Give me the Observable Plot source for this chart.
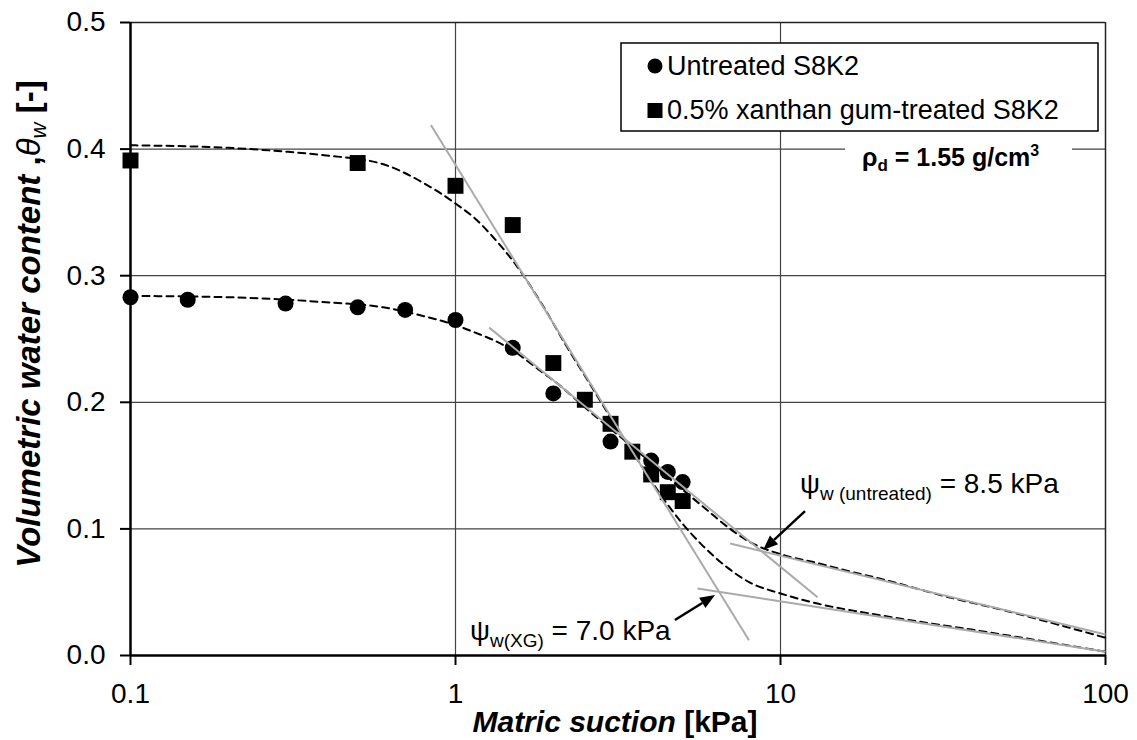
<!DOCTYPE html>
<html><head><meta charset="utf-8">
<script src="https://cdn.jsdelivr.net/npm/d3@7"></script>
<script src="https://cdn.jsdelivr.net/npm/@observablehq/plot@0.6"></script>
<style>body{margin:0;background:#fff}</style>
</head><body><div id="chart"></div>
<script>
const FONT = "'Liberation Sans', Arial, Helvetica, sans-serif";

// ---- measured data ----
const untreatedSuction = [0.1, 0.15, 0.3, 0.5, 0.7, 1, 1.5, 2, 3, 4, 4.5, 5];
const untreatedTheta   = [0.283, 0.281, 0.278, 0.275, 0.273, 0.265, 0.243, 0.207, 0.169, 0.154, 0.145, 0.137];
const treatedSuction   = [0.1, 0.5, 1, 1.5, 2, 2.5, 3, 3.5, 4, 4.5, 5];
const treatedTheta     = [0.391, 0.389, 0.371, 0.340, 0.231, 0.202, 0.183, 0.161, 0.143, 0.129, 0.122];

// ---- fitted curves ----
const untreatedFitX = [0.1, 0.2, 0.4, 0.6, 0.8, 1, 1.15, 1.3, 1.5, 1.8, 2.1, 2.5, 3, 3.5, 4, 5, 6, 7, 8, 10, 13, 16, 20, 33, 50, 70, 100];
const untreatedFitY = [0.284, 0.283, 0.279, 0.275, 0.268, 0.261, 0.255, 0.2495, 0.241, 0.226, 0.213, 0.196, 0.179, 0.165, 0.152, 0.131, 0.114, 0.100, 0.090, 0.080, 0.073, 0.067, 0.061, 0.046, 0.035, 0.025, 0.014];
const treatedFitX = [0.1, 0.2, 0.3, 0.4, 0.6, 0.8, 1, 1.15, 1.3, 1.55, 1.85, 2.2, 2.6, 3, 3.5, 4, 4.5, 5, 5.7, 6.9, 8, 10, 13, 20, 42, 100];
const treatedFitY = [0.403, 0.401, 0.398, 0.395, 0.388, 0.373, 0.357, 0.345, 0.331, 0.307, 0.277, 0.244, 0.214, 0.188, 0.161, 0.138, 0.119, 0.104, 0.088, 0.069, 0.058, 0.049, 0.041, 0.032, 0.019, 0.003];

// ---- tangent construction lines ----
const tangentX1 = [0.84, 1.27, 5.55, 7.0];
const tangentY1 = [0.419, 0.259, 0.053, 0.0885];
const tangentX2 = [8.0, 13.0, 100, 100];
const tangentY2 = [0.012, 0.046, 0.003, 0.0166];

// ---- annotation arrows (tail -> tip) ----
const arrowFromX = [11.94, 4.75];
const arrowFromY = [0.1137, 0.0276];
const arrowToX   = [8.87, 6.31];
const arrowToY   = [0.0829, 0.0474];

// ---- annotation texts ----
const annotMain = ["ψ", "ψ"];
const annotSub  = ["w (untreated)", "w(XG)"];
const annotRest = [" = 8.5 kPa", " = 7.0 kPa"];
const annotX = [11.52, 1.112];
const annotY = [0.128, 0.0118];

// ---- ticks & labels ----
const xTicks = [0.1, 1, 10, 100];
const xTickLabels = ["0.1", "1", "10", "100"];
const yTicks = [0, 0.1, 0.2, 0.3, 0.4, 0.5];
const yTickLabels = ["0.0", "0.1", "0.2", "0.3", "0.4", "0.5"];
const xGrid = [1, 10];
const yGrid = [0.1, 0.2, 0.3, 0.4];
const legendLabels = ["Untreated S8K2", "0.5% xanthan gum-treated S8K2"];

// ---- build tables ----
const untreated = untreatedSuction.map((x, i) => ({x, y: untreatedTheta[i]}));
const treated = treatedSuction.map((x, i) => ({x, y: treatedTheta[i]}));
const untreatedFit = untreatedFitX.map((x, i) => ({x, y: untreatedFitY[i]}));
const treatedFit = treatedFitX.map((x, i) => ({x, y: treatedFitY[i]}));
const tangents = tangentX1.map((x1, i) => ({x1, y1: tangentY1[i], x2: tangentX2[i], y2: tangentY2[i]}));

const chart = Plot.plot({
  width: 1137, height: 740,
  marginLeft: 130, marginRight: 32, marginTop: 22, marginBottom: 85,
  style: {fontFamily: FONT, background: "#fff", color: "#000", overflow: "visible"},
  x: {type: "log", domain: [0.1, 100]},
  y: {domain: [0, 0.5]},
  marks: [
    Plot.ruleX(xGrid, {stroke: "#444", strokeWidth: 1.2}),
    Plot.ruleY(yGrid, {stroke: "#444", strokeWidth: 1.2}),
    Plot.ruleY([0.5], {stroke: "#222", strokeWidth: 1.5}),
    Plot.ruleX([100], {stroke: "#222", strokeWidth: 1.5}),
    Plot.line(untreatedFit, {x: "x", y: "y", stroke: "#000", strokeWidth: 2, strokeDasharray: "7,5", curve: "monotone-x"}),
    Plot.line(treatedFit, {x: "x", y: "y", stroke: "#000", strokeWidth: 2, strokeDasharray: "7,5", curve: "monotone-x"}),
    Plot.dot(untreated, {x: "x", y: "y", r: 8, fill: "#000", symbol: "circle"}),
    Plot.dot(treated, {x: "x", y: "y", r: 9, fill: "#000", symbol: "square"}),
    Plot.link(tangents, {x1: "x1", y1: "y1", x2: "x2", y2: "y2", stroke: "#aaa", strokeWidth: 2}),
    Plot.ruleX([0.1], {stroke: "#000", strokeWidth: 2.5}),
    Plot.ruleY([0], {stroke: "#000", strokeWidth: 2.5}),
    Plot.axisX(xTicks, {tickSize: 10, tickPadding: 18, fontSize: 28, stroke: "#000", strokeWidth: 2, fill: "#000",
      tickFormat: d => xTickLabels[xTicks.indexOf(d)], label: null}),
    Plot.axisY(yTicks, {tickSize: 10, tickPadding: 15, fontSize: 28, stroke: "#000", strokeWidth: 2, fill: "#000",
      tickFormat: d => yTickLabels[yTicks.indexOf(d)], label: null})
  ]
});
document.getElementById("chart").appendChild(chart);

const svg = d3.select(chart);
const sx = chart.scale("x"), sy = chart.scale("y");
const X = v => sx.apply(v), Y = v => sy.apply(v);
const overlay = svg.append("g").attr("text-anchor", "start").attr("font-family", FONT).attr("fill", "#000");

// ---- arrows ----
arrowFromX.forEach((fx, i) => {
  const x0 = X(fx), y0 = Y(arrowFromY[i]);
  const x1 = X(arrowToX[i]), y1 = Y(arrowToY[i]);
  const dx = x1 - x0, dy = y1 - y0, len = Math.hypot(dx, dy);
  const ux = dx / len, uy = dy / len, L = 15, W = 6;
  const bx = x1 - ux * L, by = y1 - uy * L;
  overlay.append("line").attr("x1", x0).attr("y1", y0).attr("x2", bx).attr("y2", by)
    .attr("stroke", "#000").attr("stroke-width", 2.5);
  overlay.append("polygon")
    .attr("points", `${x1},${y1} ${bx - uy * W},${by + ux * W} ${bx + uy * W},${by - ux * W}`)
    .attr("fill", "#000");
});

// ---- annotation texts ----
annotMain.forEach((m, i) => {
  const t = overlay.append("text").attr("x", X(annotX[i])).attr("y", Y(annotY[i])).attr("font-size", 28);
  t.append("tspan").text(m);
  t.append("tspan").attr("font-size", 19).attr("dy", 7).text(annotSub[i]);
  t.append("tspan").attr("dy", -7).text(annotRest[i]);
});

// ---- legend ----
overlay.append("rect").attr("x", 621).attr("y", 43).attr("width", 477).attr("height", 88)
  .attr("fill", "#fff").attr("stroke", "#000").attr("stroke-width", 1.5);
overlay.append("circle").attr("cx", 655).attr("cy", 66).attr("r", 7.5).attr("fill", "#000");
overlay.append("rect").attr("x", 647.5).attr("y", 103).attr("width", 15).attr("height", 15).attr("fill", "#000");
overlay.append("text").attr("x", 667).attr("y", 75).attr("font-size", 27).text(legendLabels[0]);
overlay.append("text").attr("x", 667).attr("y", 119).attr("font-size", 27).text(legendLabels[1]);

// ---- density label ----
overlay.append("rect").attr("x", 845).attr("y", 138).attr("width", 227).attr("height", 36).attr("fill", "#fff");
const rho = overlay.append("text").attr("x", 862).attr("y", 166).attr("font-size", 25).attr("font-weight", "bold");
rho.append("tspan").text("ρ");
rho.append("tspan").attr("font-size", 17).attr("dy", 5).text("d");
rho.append("tspan").attr("dy", -5).text(" = 1.55 g/cm");
rho.append("tspan").attr("font-size", 16).attr("dy", -10).text("3");

// ---- axis titles ----
const xt = overlay.append("text").attr("x", 615).attr("y", 732).attr("text-anchor", "middle")
  .attr("font-size", 30).attr("font-weight", "bold");
xt.append("tspan").attr("font-style", "italic").text("Matric suction");
xt.append("tspan").text(" [kPa]");

const yt = overlay.append("text").attr("transform", "translate(40,324) rotate(-90)").attr("text-anchor", "middle")
  .attr("font-size", 33).attr("font-weight", "bold");
yt.append("tspan").attr("font-style", "italic").text("Volumetric water content");
yt.append("tspan").text(" ,");
yt.append("tspan").attr("font-style", "italic").attr("font-weight", "normal").text("θ");
yt.append("tspan").attr("font-style", "italic").attr("font-weight", "normal").attr("font-size", 22).attr("dy", 6).text("w");
yt.append("tspan").attr("dy", -6).text(" [-]");
</script>
</body></html>
